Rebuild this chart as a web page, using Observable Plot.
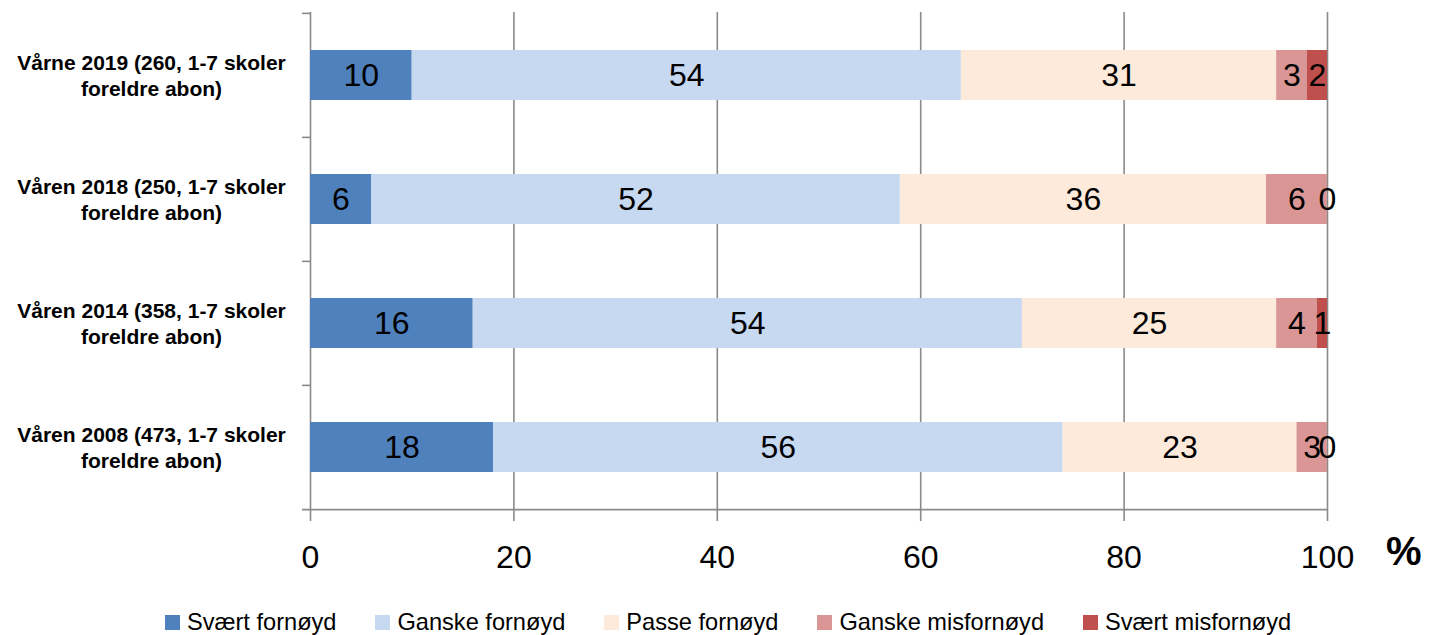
<!DOCTYPE html>
<html>
<head>
<meta charset="utf-8">
<script src="https://cdn.jsdelivr.net/npm/d3@7"></script>
<script src="https://cdn.jsdelivr.net/npm/@observablehq/plot@0.6"></script>
<style>
  html, body { margin: 0; padding: 0; background: #fff; }
  #wrap { position: relative; width: 1435px; height: 635px; font-family: "Liberation Sans", Arial, sans-serif; }
  #legend { position: absolute; left: 165px; top: 608px; display: flex; align-items: center; gap: 39px; font-size: 23.6px; color: #000; line-height: 28px; }
  #legend .item { display: flex; align-items: center; gap: 7px; }
  #legend .sw { width: 15px; height: 15px; display: inline-block; }
</style>
</head>
<body>
<div id="wrap"><div id="chart"></div><div id="legend"></div></div>
<script>
const categories = [
  "Vårne 2019 (260, 1-7 skoler\nforeldre abon)",
  "Våren 2018 (250, 1-7 skoler\nforeldre abon)",
  "Våren 2014 (358, 1-7 skoler\nforeldre abon)",
  "Våren 2008 (473, 1-7 skoler\nforeldre abon)"
];
const seriesNames = ["Svært fornøyd", "Ganske fornøyd", "Passe fornøyd", "Ganske misfornøyd", "Svært misfornøyd"];
const seriesColors = ["#4F81BD", "#C6D9F1", "#FDEADA", "#D99694", "#C0504D"];
const sværtFornøyd = [10, 6, 16, 18];
const ganskeFornøyd = [54, 52, 54, 56];
const passeFornøyd = [31, 36, 25, 23];
const ganskeMisfornøyd = [3, 6, 4, 3];
const sværtMisfornøyd = [2, 0, 1, 0];
const xTicks = [0, 20, 40, 60, 80, 100];
const axisUnit = "%";

const seriesValues = [sværtFornøyd, ganskeFornøyd, passeFornøyd, ganskeMisfornøyd, sværtMisfornøyd];
const data = [];
categories.forEach((c, i) => {
  seriesNames.forEach((s, j) => data.push({cat: c, series: s, value: seriesValues[j][i]}));
});

const W = 1435, H = 585;
const mTop = 12, mBottom = H - 509, mLeft = 310, mRight = 1435 - 1327;
const step = (H - mTop - mBottom) / categories.length;
const axisColor = "#8a8a8a";

const plot = Plot.plot({
  width: W,
  height: H,
  marginTop: mTop,
  marginBottom: mBottom,
  marginLeft: mLeft,
  marginRight: mRight,
  style: {fontFamily: "'Liberation Sans', Arial, sans-serif", background: "#fff", overflow: "visible"},
  x: {domain: [0, 100], ticks: xTicks, tickSize: 0, tickPadding: 36, label: null},
  y: {domain: categories, paddingInner: 0.6, paddingOuter: 0.3, axis: null},
  color: {domain: seriesNames, range: seriesColors},
  marks: [
    Plot.ruleX(xTicks, {x: d => d, stroke: axisColor, strokeWidth: 1.6, insetBottom: -12}),
    Plot.barX(data, Plot.stackX({x: "value", y: "cat", fill: "series", order: null})),
    Plot.text(data, Plot.stackX({x: "value", y: "cat", z: "series", text: d => String(d.value), order: null, fontSize: 32, fill: "#000"})),
    // category boundary ticks on the y axis (top boundary of each band)
    Plot.ruleY(categories, {y: d => d, x1: 0, x2: 0, insetLeft: -8, dy: -step / 2, stroke: axisColor, strokeWidth: 1.6}),
    // bottom axis line (bottom boundary of last band)
    Plot.ruleY(categories.slice(-1), {y: d => d, x1: 0, x2: 100, insetLeft: -8, dy: step / 2, stroke: axisColor, strokeWidth: 1.6}),
    Plot.text(categories, {y: d => d, text: d => d, frameAnchor: "left", dx: -159, textAnchor: "middle", fontWeight: "bold", fontSize: 21, lineHeight: 1.27, dy: -1, fill: "#000"}),
    Plot.axisX({ticks: xTicks, tickSize: 0, tickPadding: 36, fontSize: 32, label: null, tickFormat: d => String(d), fill: "#000"}),
    Plot.text([axisUnit], {text: d => d, frameAnchor: "bottom-right", textAnchor: "end", dx: 94, dy: 55, fontSize: 40, fontWeight: "bold", fill: "#000"})
  ]
});
document.getElementById("chart").appendChild(plot);

const leg = document.getElementById("legend");
seriesNames.forEach((s, i) => {
  const it = document.createElement("div");
  it.className = "item";
  const sw = document.createElement("span");
  sw.className = "sw";
  sw.style.background = seriesColors[i];
  const t = document.createElement("span");
  t.textContent = s;
  it.appendChild(sw); it.appendChild(t);
  leg.appendChild(it);
});
</script>
</body>
</html>
